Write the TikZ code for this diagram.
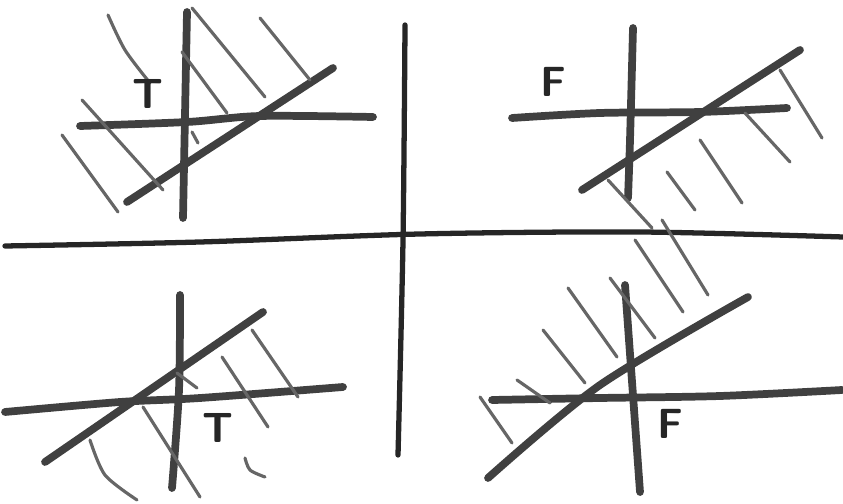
\documentclass[tikz,border=0pt]{standalone}
\usepackage{tikz}
\usetikzlibrary{positioning}
\tikzstyle{axisline}=[draw=black!85, line width=1.5pt, line cap=round]
\tikzstyle{thickline}=[draw=black!75, line width=2.2pt, line cap=round]
\tikzstyle{hatchline}=[draw=black!60, line width=0.9pt, line cap=round]
\tikzstyle{tflabel}=[font=\large\sffamily\bfseries, text=black!85, inner sep=0pt]

\begin{document}
\begin{tikzpicture}[x=0.01cm, y=-0.01cm]

        \useasboundingbox (0,0) rectangle (843,504);

        % main cross
        \draw[axisline] plot[smooth] coordinates {(5,246) (200,242) (420,234) (640,232) (843,237)};
        \draw[axisline] plot[smooth] coordinates {(405,25) (403,240) (398,455)};

        % top left
        \draw[thickline] (187,12) -- (183,218);
        \draw[thickline] plot[smooth] coordinates {(80,126) (187,122) (260,116) (373,117)};
        \draw[thickline] (127,202) -- (333,68);
        \draw[hatchline] plot[smooth] coordinates {(108,15) (125,50) (150,83)};
        \draw[hatchline] (182,52) -- (227,113);
        \draw[hatchline] (192,8) -- (265,97);
        \draw[hatchline] (260,18) -- (310,80);
        \draw[hatchline] (82,100) -- (163,190);
        \draw[hatchline] (62,135) -- (118,212);
        \draw[hatchline] (192,132) -- (198,143);
        \node[tflabel] (t1) at (148,94) {T};

        % top right
        \draw[thickline] plot[smooth] coordinates {(633,28) (630,140) (628,198)};
        \draw[thickline] plot[smooth] coordinates {(512,118) (600,113) (700,112) (787,108)};
        \draw[thickline] (582,190) -- (800,50);
        \draw[hatchline] (780,70) -- (822,138);
        \draw[hatchline] (745,113) -- (790,162);
        \draw[hatchline] (700,140) -- (742,203);
        \draw[hatchline] (667,172) -- (695,210);
        \draw[hatchline] (608,180) -- (652,228);
        \node[tflabel] (f1) at (553,82) {F};

        % bottom left
        \draw[thickline] plot[smooth] coordinates {(180,295) (179,390) (172,488)};
        \draw[thickline] plot[smooth] coordinates {(5,412) (120,402) (200,398) (343,387)};
        \draw[thickline] (45,462) -- (263,312);
        \draw[hatchline] (252,330) -- (298,397);
        \draw[hatchline] (222,357) -- (268,427);
        \draw[hatchline] (143,407) -- (200,497);
        \draw[hatchline] plot[smooth] coordinates {(90,440) (105,475) (137,500)};
        \draw[hatchline] (177,373) -- (197,388);
        \draw[hatchline] plot[smooth] coordinates {(245,458) (250,470) (265,477)};
        \node[tflabel] (t2) at (218,428) {T};

        % bottom right
        \draw[thickline] (625,285) -- (640,492);
        \draw[thickline] plot[smooth] coordinates {(492,400) (600,398) (720,396) (842,390)};
        \draw[thickline] plot[smooth] coordinates {(488,478) (600,385) (748,297)};
        \draw[hatchline] (480,397) -- (512,443);
        \draw[hatchline] (517,380) -- (550,403);
        \draw[hatchline] (543,330) -- (585,383);
        \draw[hatchline] (568,288) -- (617,357);
        \draw[hatchline] (610,278) -- (655,338);
        \draw[hatchline] (635,240) -- (683,312);
        \draw[hatchline] (662,220) -- (708,295);
        \node[tflabel] (f2) at (670,424) {F};

    \end{tikzpicture}
\end{document}
